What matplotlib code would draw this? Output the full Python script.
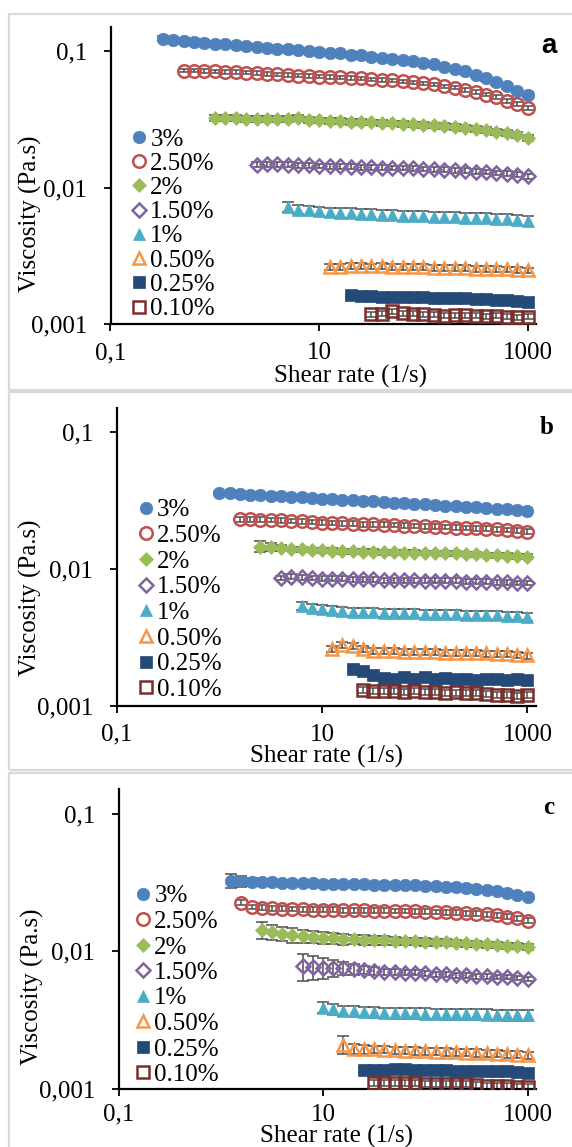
import matplotlib
matplotlib.use("Agg")
import matplotlib.pyplot as plt
from matplotlib.patches import Rectangle
from matplotlib.ticker import FixedLocator, FixedFormatter, NullLocator

plt.rcParams["font.family"] = ["Liberation Serif", "DejaVu Serif"]

W, H = 572, 1147

# rheometer shear-rate grid (1/s), every series ends at 1000
SHEAR = [0.1, 0.126, 0.158, 0.2, 0.251, 0.316, 0.398, 0.501, 0.631, 0.794,
         1, 1.26, 1.58, 2, 2.51, 3.16, 3.98, 5.01, 6.31, 7.94,
         10, 12.6, 15.8, 20, 25.1, 31.6, 39.8, 50.1, 63.1, 79.4,
         100, 126, 158, 200, 251, 316, 398, 501, 631, 794, 1000]

LABELS = ["3%", "2.50%", "2%", "1.50%", "1%", "0.50%", "0.25%", "0.10%"]
COLORS = ["#4F81BD", "#C0504D", "#9BBB59", "#8064A2",
          "#4BACC6", "#F79646", "#264A78", "#7A2E2B"]
MARKERS = ["o", "o", "D", "D", "^", "^", "s", "s"]
FILLED = [True, False, True, False, True, False, True, False]

# ---- panel a : viscosity (Pa.s)
A_3 = [0.123, 0.121, 0.119, 0.117, 0.115,
       0.113, 0.112, 0.110, 0.109, 0.107, 0.106, 0.104, 0.103, 0.102, 0.100,
       0.099, 0.097, 0.096, 0.094, 0.093, 0.091, 0.089, 0.088, 0.086, 0.084,
       0.082, 0.080, 0.077, 0.074, 0.071, 0.067, 0.063, 0.059, 0.055, 0.051, 0.048]
A_25 = [0.072, 0.072, 0.0715,
        0.071, 0.0705, 0.070, 0.0695, 0.069, 0.068, 0.0675, 0.067, 0.066, 0.0655,
        0.065, 0.0645, 0.064, 0.0635, 0.063, 0.062, 0.0615, 0.061, 0.060, 0.059,
        0.058, 0.057, 0.055, 0.054, 0.052, 0.050, 0.048, 0.046, 0.043, 0.041, 0.0384]
A_2 = [0.0325, 0.0325, 0.0325, 0.032, 0.032, 0.032, 0.0318, 0.0316, 0.0322, 0.0312,
       0.031, 0.0308, 0.0306, 0.0304, 0.0302, 0.030, 0.0298, 0.0295, 0.0292, 0.029,
       0.0288, 0.0285, 0.0282, 0.0278, 0.0274, 0.027, 0.0264, 0.0257, 0.025, 0.0241, 0.0231]
A_15 = [0.0147, 0.0148, 0.0148, 0.0147, 0.0146, 0.0145,
        0.0144, 0.0143, 0.0143, 0.0142, 0.0141, 0.0141, 0.014, 0.0139, 0.0139, 0.0138,
        0.0137, 0.0136, 0.0135, 0.0134, 0.0133, 0.0131, 0.013, 0.0128, 0.0126, 0.0124, 0.0121]
A_1 = [0.0072, 0.0069, 0.0068,
       0.0067, 0.0066, 0.0065, 0.0065, 0.0064, 0.0064, 0.0063, 0.0063, 0.0062, 0.0062,
       0.0062, 0.0061, 0.0061, 0.0061, 0.006, 0.006, 0.006, 0.0059, 0.0059, 0.0058, 0.0057]
A_05 = [0.00262, 0.00263, 0.00265, 0.00266, 0.00264, 0.00266, 0.00263, 0.00262, 0.00261, 0.0026,
        0.00259, 0.00258, 0.00257, 0.00256, 0.00255, 0.00254, 0.00252, 0.00251, 0.0025, 0.00247]
A_025 = [0.00162, 0.00161, 0.0016, 0.00159, 0.00159, 0.00158, 0.00157, 0.00157, 0.00156,
         0.00155, 0.00155, 0.00154, 0.00153, 0.00152, 0.00151, 0.0015, 0.00148, 0.00146]
A_01 = [0.00118, 0.00119, 0.00124, 0.0012, 0.00119, 0.00118, 0.00117, 0.00115,
        0.00116, 0.00116, 0.00115, 0.00114, 0.00115, 0.00113, 0.00112, 0.00113]
A_ERR = [0.04, 0.03, 0.05, 0.04, 0.08, 0.05, 0.03, 0.04]  # relative std dev

# ---- panel b
B_3 = [0.0362, 0.0358, 0.0355, 0.0351, 0.0348, 0.0344, 0.0341, 0.0337, 0.0334, 0.0331,
       0.0327, 0.0324, 0.0321, 0.0318, 0.0315, 0.0312, 0.0309, 0.0306, 0.0303, 0.0300,
       0.0297, 0.0294, 0.0291, 0.0288, 0.0285, 0.0282, 0.0279, 0.0276, 0.0273, 0.0269, 0.0266]
B_25 = [0.0232, 0.0231, 0.023, 0.0229, 0.0227, 0.0225, 0.0223, 0.0221,
        0.0219, 0.0217, 0.0216, 0.0215, 0.0213, 0.0212, 0.0211, 0.021, 0.0208, 0.0207,
        0.0205, 0.0204, 0.0203, 0.0201, 0.02, 0.0198, 0.0197, 0.0195, 0.0193, 0.0191, 0.0188]
B_2 = [0.0146, 0.0145, 0.0142, 0.014, 0.0139, 0.0138,
       0.0137, 0.0136, 0.0135, 0.0135, 0.0134, 0.0134, 0.0133, 0.0133, 0.0132, 0.0132,
       0.0131, 0.0131, 0.013, 0.013, 0.0129, 0.0128, 0.0127, 0.0126, 0.0125, 0.0124, 0.0123]
B_15 = [0.0086, 0.0088, 0.0087, 0.0086,
        0.0085, 0.0085, 0.0085, 0.0084, 0.0084, 0.0084, 0.0083, 0.0083, 0.0083, 0.0083,
        0.0082, 0.0082, 0.0082, 0.0082, 0.0081, 0.0081, 0.0081, 0.008, 0.008, 0.0079, 0.0079]
B_1 = [0.0054, 0.0052,
       0.0051, 0.005, 0.0049, 0.00488, 0.00485, 0.00482, 0.0048, 0.00478, 0.00476, 0.00474,
       0.00472, 0.0047, 0.00468, 0.00466, 0.00464, 0.00462, 0.0046, 0.00458, 0.00455, 0.00452, 0.00448]
B_05 = [0.00262, 0.0028, 0.00275, 0.0026, 0.00252, 0.0025, 0.0025, 0.00249, 0.00248, 0.00247,
        0.00246, 0.00245, 0.00244, 0.00243, 0.00242, 0.00241, 0.0024, 0.00238, 0.00236, 0.00233]
B_025 = [0.00185, 0.00178, 0.00168, 0.0016, 0.00158, 0.00163, 0.00158, 0.00161, 0.00157,
         0.0016, 0.00156, 0.00158, 0.00155, 0.00157, 0.00156, 0.00155, 0.00157, 0.00155]
B_01 = [0.0013, 0.00129, 0.00128, 0.00128, 0.00127, 0.00128, 0.00126, 0.00127, 0.00124,
        0.00125, 0.00124, 0.00124, 0.00122, 0.00119, 0.0012, 0.00118, 0.0012]
B_2_ERR = [0.09, 0.07, 0.05, 0.04, 0.04, 0.04, 0.04, 0.04, 0.04, 0.04, 0.04, 0.04, 0.04, 0.04,
           0.04, 0.04, 0.04, 0.04, 0.04, 0.04, 0.04, 0.04, 0.04, 0.04, 0.04, 0.04, 0.04]
B_ERR = [0.02, 0.04, B_2_ERR, 0.04, 0.07, 0.05, 0.03, 0.05]

# ---- panel c
C_3 = [0.0326, 0.0323, 0.0320, 0.0318, 0.0316, 0.0315, 0.0313, 0.0312, 0.0311,
       0.0310, 0.0309, 0.0308, 0.0307, 0.0306, 0.0305, 0.0304, 0.0303, 0.0302, 0.0301,
       0.0299, 0.0297, 0.0295, 0.0292, 0.0289, 0.0285, 0.0280, 0.0274, 0.0267, 0.0258, 0.0249]
C_25 = [0.0226, 0.021, 0.0207, 0.0205, 0.0204, 0.0203, 0.0202, 0.0201,
        0.02, 0.02, 0.0199, 0.0198, 0.0198, 0.0197, 0.0197, 0.0196, 0.0196, 0.0195,
        0.0194, 0.0193, 0.0192, 0.0191, 0.0189, 0.0187, 0.0185, 0.0182, 0.0178, 0.0173, 0.0167]
C_2 = [0.0143, 0.0138, 0.0134, 0.0131, 0.0129, 0.0127,
       0.0125, 0.0124, 0.0123, 0.0122, 0.0121, 0.012, 0.012, 0.0119, 0.0118, 0.0118,
       0.0117, 0.0116, 0.0116, 0.0115, 0.0114, 0.0113, 0.0112, 0.0111, 0.011, 0.0109, 0.0107]
C_15 = [0.0078, 0.0077,
        0.0076, 0.0076, 0.0075, 0.0074, 0.0073, 0.0072, 0.0071, 0.0071, 0.007, 0.007,
        0.0069, 0.0068, 0.0068, 0.0067, 0.0067, 0.0066, 0.0066, 0.0065, 0.0065, 0.0064, 0.0063]
C_1 = [0.0039, 0.0038, 0.0037, 0.00368, 0.00364, 0.0036, 0.00358, 0.00356, 0.00355, 0.00354,
       0.00353, 0.00352, 0.00351, 0.0035, 0.00349, 0.00348, 0.00347, 0.00346, 0.00345, 0.00344, 0.00343]
C_05 = [0.0021, 0.00196, 0.00194, 0.00195, 0.00193, 0.00191, 0.0019, 0.00189, 0.00188, 0.00187,
        0.00186, 0.00185, 0.00184, 0.00183, 0.00182, 0.00181, 0.00179, 0.00178, 0.00176]
C_025 = [0.00138, 0.00138, 0.00138, 0.00139, 0.00139, 0.00138, 0.00138, 0.00138, 0.00137,
         0.00136, 0.00135, 0.00136, 0.00135, 0.00134, 0.00134, 0.00132, 0.0013]
C_01 = [0.00111, 0.00111, 0.0011, 0.0011, 0.0011, 0.00109, 0.00109, 0.00108,
        0.00108, 0.00108, 0.00107, 0.00106, 0.00106, 0.00105, 0.00104, 0.00104]
C_3_ERR = [0.12, 0.09, 0.07, 0.06, 0.05, 0.04, 0.04, 0.04, 0.04, 0.04, 0.04, 0.04, 0.04, 0.04, 0.04,
           0.04, 0.04, 0.04, 0.04, 0.04, 0.04, 0.04, 0.04, 0.04, 0.04, 0.04, 0.04, 0.04, 0.04, 0.04]
C_2_ERR = [0.14, 0.13, 0.12, 0.12, 0.11, 0.10, 0.10, 0.09, 0.09, 0.08,
           0.08, 0.07, 0.07, 0.07, 0.06, 0.06, 0.06, 0.06, 0.05, 0.05,
           0.05, 0.05, 0.05, 0.05, 0.05, 0.05, 0.05]
C_15_ERR = [0.22, 0.20, 0.17, 0.14, 0.11, 0.09, 0.07, 0.06, 0.05, 0.05,
            0.04, 0.04, 0.04, 0.04, 0.04, 0.04, 0.04, 0.04, 0.04, 0.04, 0.04, 0.04, 0.04]
C_05_ERR = [0.15, 0.08, 0.07, 0.06, 0.06, 0.06, 0.06, 0.06, 0.06, 0.06,
            0.06, 0.06, 0.06, 0.06, 0.06, 0.06, 0.06, 0.06, 0.06]
C_ERR = [C_3_ERR, 0.04, C_2_ERR, C_15_ERR, 0.09, C_05_ERR, 0.03, 0.05]

X_TICKS = [0.1, 10, 1000]
X_TICKLABELS = ["0,1", "10", "1000"]
Y_TICKS = [0.001, 0.01, 0.1]
Y_TICKLABELS = ["0,001", "0,01", "0,1"]

FS = 18
MS = {"o": 9, "D": 7.5, "^": 9, "s": 8.5}


def fx(px):
    return px / W


def fy(py):
    return 1 - py / H


def draw_panel(box, series, errs, letter, letter_kw, legend_xy, spacing,
               ylabel_xy, xlabel_xy, xpad=8):
    left, top, right, bottom = box
    ax = fig.add_axes([fx(left), fy(bottom), fx(right - left), (bottom - top) / H])
    handles = []
    for i, vals in enumerate(series):
        xs = SHEAR[-len(vals):]
        e = errs[i]
        if isinstance(e, list):
            yerr = [v * f for v, f in zip(vals, e)]
        else:
            yerr = [v * e for v in vals]
        ax.errorbar(xs, vals, yerr=yerr, fmt="none", ecolor="#4d4d4d",
                    elinewidth=1.1, capsize=4, capthick=1.1, zorder=2)
        face = COLORS[i] if FILLED[i] else "none"
        h, = ax.plot(xs, vals, linestyle="none", marker=MARKERS[i], ms=MS[MARKERS[i]],
                     mfc=face, mec=COLORS[i], mew=1.8 if not FILLED[i] else 0.5,
                     label=LABELS[i], zorder=3)
        handles.append(h)

    ax.set_xscale("log")
    ax.set_yscale("log")
    ax.set_xlim(0.1, 1200)
    ax.set_ylim(0.001, 0.15)
    ax.xaxis.set_major_locator(FixedLocator(X_TICKS))
    ax.xaxis.set_major_formatter(FixedFormatter(X_TICKLABELS))
    ax.yaxis.set_major_locator(FixedLocator(Y_TICKS))
    ax.yaxis.set_major_formatter(FixedFormatter(Y_TICKLABELS))
    ax.xaxis.set_minor_locator(NullLocator())
    ax.yaxis.set_minor_locator(NullLocator())
    ax.tick_params(axis="both", direction="out", length=5, width=1.3, labelsize=FS)
    ax.tick_params(axis="x", pad=xpad)
    ax.tick_params(axis="y", pad=12)
    for s in ("top", "right"):
        ax.spines[s].set_visible(False)
    for s in ("left", "bottom"):
        ax.spines[s].set_linewidth(1.6)
    ax.patch.set_alpha(0)

    # y label: x is the right edge of the rotated text, y its centre
    ax.set_ylabel("Viscosity (Pa.s)", fontsize=FS)
    ax.yaxis.set_label_coords((ylabel_xy[0] - left) / (right - left),
                              (bottom - ylabel_xy[1]) / (bottom - top))
    # x label: y is the top of the text
    ax.set_xlabel("Shear rate (1/s)", fontsize=FS)
    ax.xaxis.set_label_coords((xlabel_xy[0] - left) / (right - left),
                              (bottom - xlabel_xy[1]) / (bottom - top))

    ax.legend(handles=handles, loc="upper left",
              bbox_to_anchor=((legend_xy[0] - left) / (right - left),
                              (bottom - legend_xy[1]) / (bottom - top)),
              frameon=False, fontsize=FS, borderaxespad=0, borderpad=0,
              handlelength=0.65, handletextpad=0.12, labelspacing=spacing)

    fig.text(fx(letter[1]), fy(letter[2]), letter[0], ha="center", va="center", **letter_kw)
    return ax


fig = plt.figure(figsize=(W / 100, H / 100), dpi=100)

# light gray frames around the three panels
for top, bottom in [(14, 390), (392, 770), (773, 1160)]:
    fig.add_artist(Rectangle((fx(9), fy(bottom)), fx(600 - 9), (bottom - top) / H,
                             transform=fig.transFigure, fill=False,
                             edgecolor="#d9d9d9", linewidth=1.6))

draw_panel((110.5, 27, 536, 324), [A_3, A_25, A_2, A_15, A_1, A_05, A_025, A_01], A_ERR,
           ("a", 549, 46), dict(fontsize=20, fontweight="bold", family="Liberation Sans"),
           (131, 128), 0.07, (42, 214), (350, 365))
draw_panel((116.7, 408.3, 535.6, 705.7), [B_3, B_25, B_2, B_15, B_1, B_05, B_025, B_01], B_ERR,
           ("b", 547, 427), dict(fontsize=18, fontweight="bold"),
           (138, 499), 0.125, (42, 598), (326, 745))
draw_panel((118.6, 789.3, 535.6, 1089), [C_3, C_25, C_2, C_15, C_1, C_05, C_025, C_01], C_ERR,
           ("c", 549, 807), dict(fontsize=18, fontweight="bold"),
           (135, 885), 0.12, (44, 987), (336, 1125), xpad=5.5)

fig.savefig("out.png", dpi=100)
